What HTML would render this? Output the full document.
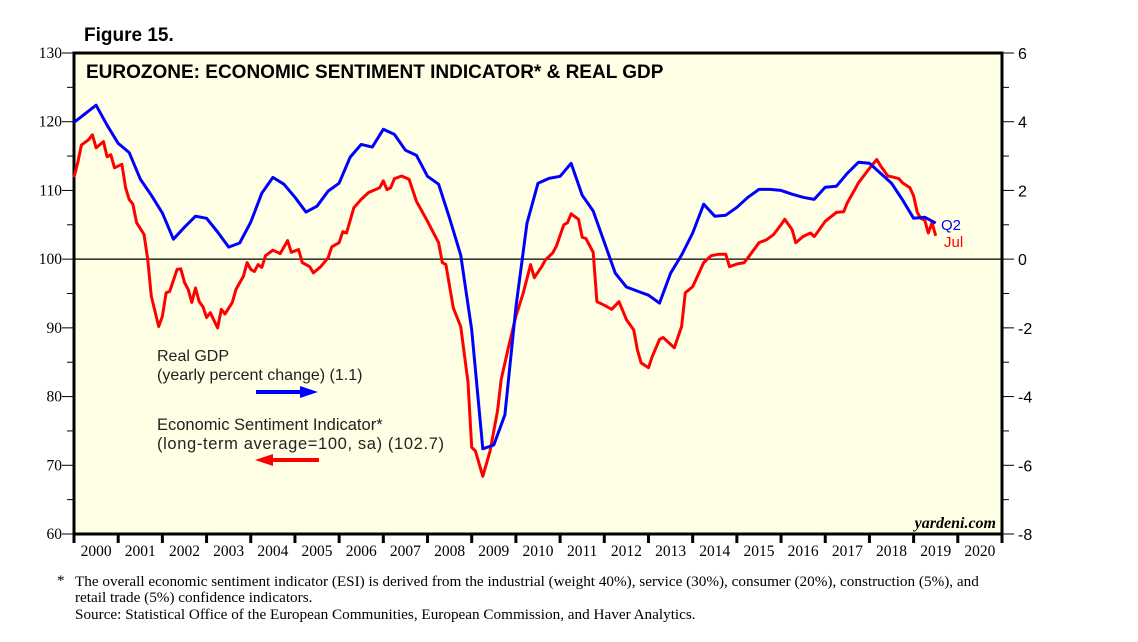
<!DOCTYPE html>
<html><head><meta charset="utf-8"><style>
body{margin:0;background:#fff;}
svg text{font-family:"Liberation Sans",Arial,sans-serif;}
.serif{font-family:"Liberation Serif","Times New Roman",serif;}
</style></head><body>
<svg id="chart" width="1138" height="637" viewBox="0 0 1138 637" xmlns="http://www.w3.org/2000/svg">
<text x="84" y="41" font-size="19" font-weight="bold">Figure 15.</text>
<rect x="74" y="53" width="928" height="481" fill="#ffffe6" stroke="#000" stroke-width="3"/>
<text x="86" y="78" font-size="19" font-weight="bold">EUROZONE: ECONOMIC SENTIMENT INDICATOR* &amp; REAL GDP</text>
<g id="axes"></g>
<g id="series"></g>
<text x="157" y="361" font-size="16" fill="#222">Real GDP</text>
<text x="157" y="380" font-size="16" fill="#222">(yearly percent change) (1.1)</text>
<line x1="256" y1="392" x2="305" y2="392" stroke="#0000ff" stroke-width="4"/>
<polygon points="318,392 300,386 300,398" fill="#0000ff"/>
<text x="157" y="430" font-size="16.5" fill="#222">Economic Sentiment Indicator*</text>
<text x="157" y="449" font-size="16.5" fill="#222" textLength="287" lengthAdjust="spacing">(long-term average=100, sa) (102.7)</text>
<line x1="268" y1="460" x2="319" y2="460" stroke="#ff0000" stroke-width="4"/>
<polygon points="255,460 273,454 273,466" fill="#ff0000"/>
<text x="941" y="230" font-size="15" fill="#0000ff">Q2</text>
<text x="944" y="247" font-size="15" fill="#ff0000">Jul</text>
<text class="serif" x="996" y="528" font-size="16" font-style="italic" font-weight="bold" text-anchor="end">yardeni.com</text>
<text class="serif" x="57" y="585" font-size="15">*</text>
<text class="serif" x="75" y="586" font-size="15.2">The overall economic sentiment indicator (ESI) is derived from the industrial (weight 40%), service (30%), consumer (20%), construction (5%), and</text>
<text class="serif" x="75" y="602" font-size="15.2">retail trade (5%) confidence indicators.</text>
<text class="serif" x="75" y="619" font-size="15.2">Source: Statistical Office of the European Communities, European Commission, and Haver Analytics.</text>
</svg>
<script>
const years=[2000,2001,2002,2003,2004,2005,2006,2007,2008,2009,2010,2011,2012,2013,2014,2015,2016,2017,2018,2019,2020];
const leftTicks=[60,70,80,90,100,110,120,130];
const rightTicks=[-8,-6,-4,-2,0,2,4,6];
const gdpValues=[3.98,4.23,4.48,3.9,3.37,3.1,2.33,1.86,1.34,0.58,0.93,1.25,1.19,0.79,0.35,0.47,1.08,1.92,2.38,2.18,1.8,1.37,1.54,1.98,2.21,2.97,3.34,3.26,3.78,3.63,3.17,3.02,2.41,2.18,1.19,0.12,-2.06,-5.52,-5.41,-4.53,-1.4,1.05,2.21,2.35,2.41,2.79,1.86,1.4,0.49,-0.41,-0.81,-0.93,-1.05,-1.28,-0.41,0.12,0.76,1.6,1.25,1.28,1.51,1.8,2.03,2.03,2.0,1.89,1.8,1.74,2.09,2.12,2.5,2.82,2.79,2.5,2.21,1.72,1.19,1.22,1.05];
const esiMonths=[0,1,2,4,5,6,8,9,10,11,13,14,15,16,17,19,20,21,23,24,25,26,28,29,30,31,32,33,34,35,36,37,39,40,41,43,44,46,47,48,49,50,51,52,54,56,58,59,61,62,64,65,67,69,70,72,73,74,76,78,80,83,84,85,86,87,89,91,93,96,99,100,101,103,105,107,108,109,111,113,115,116,118,120,122,124,125,127,128,130,131,133,134,135,137,138,139,141,142,144,146,148,150,152,153,154,156,157,159,160,163,165,166,168,170,171,173,175,176,177,178,180,182,183,186,188,190,192,193,195,196,198,200,201,202,204,207,209,210,212,213,214,216,218,219,221,222,224,225,227,228,229,230,231,232,233,234];
const esiValues=[111.9,114,116.6,117.4,118.1,116.2,117.1,114.9,115.2,113.3,113.8,110.4,108.7,108,105.3,103.6,100,94.6,90.2,91.7,95.1,95.3,98.5,98.6,96.6,95.6,93.7,95.8,93.8,93.1,91.5,92.2,90,92.7,92,93.7,95.6,97.5,99.5,98.5,98.2,99.2,98.8,100.5,101.3,100.8,102.7,101,101.4,99.5,98.9,98,98.9,100.2,101.8,102.4,104,103.8,107.5,108.7,109.7,110.4,111.4,110.1,110.4,111.7,112.1,111.6,108.4,105.5,102.4,99.5,99.2,92.9,90.2,82.1,72.6,72.1,68.4,72.1,77.9,82.5,87.2,91.7,95.1,99.2,97.3,98.9,99.9,100.9,101.9,105,105.3,106.6,105.8,103.2,103,101,93.8,93.3,92.7,93.8,91.2,89.7,86.8,84.9,84.2,85.8,88.3,88.6,87.1,90.2,95.1,96,98.3,99.5,100.5,100.7,100.7,100.7,98.9,99.3,99.5,100.2,102.4,102.8,103.6,105,105.8,104.3,102.4,103.3,103.8,103.3,104,105.5,106.8,106.9,108.2,110.1,111.1,111.8,113.2,114.5,113.6,112.1,112,111.7,111.1,110.4,109.2,106.8,105.9,105.7,103.8,105.3,103.4,102.7];

const X0=74,X1=1002,Y0=534,Y1=53;
const yrW=(X1-X0)/21;
const xYear=t=>X0+(t-2000)*yrW;
const xMonth=m=>xYear(2000+m/12);
const xQuarter=k=>xYear(2000+k/4);
const yL=v=>Y0-(v-60)/70*(Y0-Y1);
const yR=v=>Y0-(v+8)/14*(Y0-Y1);
const NS='http://www.w3.org/2000/svg';
function mk(tag,attrs,parent){const e=document.createElementNS(NS,tag);for(const k in attrs)e.setAttribute(k,attrs[k]);parent.appendChild(e);return e;}
const axes=document.getElementById('axes'),series=document.getElementById('series');

const zl=mk('line',{x1:X0,x2:X1,y1:yL(100),y2:yL(100),stroke:'#000','stroke-width':1.2},axes);



for(let v=60;v<=130;v+=5){
  const t=mk('line',{x1:X0-(v%10===0?12:7),x2:X0,y1:yL(v),y2:yL(v),stroke:'#000','stroke-width':1},axes);
  
  
}
leftTicks.forEach(v=>{
  const t=mk('text',{x:X0-12,y:yL(v)+5,'font-size':15.5,'text-anchor':'end',class:'serif'},axes);
  t.textContent=v;
  
  
});
for(let v=-8;v<=6;v+=1){
  const t=mk('line',{x1:X1,x2:X1+(v%2===0?12:7),y1:yR(v),y2:yR(v),stroke:'#000','stroke-width':1},axes);
  
  
}
rightTicks.forEach(v=>{
  const t=mk('text',{x:X1+16,y:yR(v)+6,'font-size':16},axes);
  t.textContent=v;
  
  
});
years.forEach((yr,i)=>{
  const tk=mk('line',{x1:xYear(yr),x2:xYear(yr),y1:Y0,y2:Y0+9,stroke:'#000','stroke-width':3},axes);
  
  
  const t=mk('text',{x:xYear(yr+0.5),y:Y0+22,'font-size':15.5,'text-anchor':'middle',class:'serif'},axes);
  t.textContent=yr;
  
  
});
const endTk=mk('line',{x1:X1,x2:X1,y1:Y0,y2:Y0+9,stroke:'#000','stroke-width':3},axes);



const esiPts=esiValues.map((v,i)=>xMonth(esiMonths[i]).toFixed(1)+','+yL(v).toFixed(1)).join(' ');
const esi=mk('polyline',{points:esiPts,fill:'none',stroke:'#ff0000','stroke-width':3,'stroke-linejoin':'round'},series);


const gdpPts=gdpValues.map((v,k)=>xQuarter(k).toFixed(1)+','+yR(v).toFixed(1)).join(' ');
const gdp=mk('polyline',{points:gdpPts,fill:'none',stroke:'#0000ff','stroke-width':3,'stroke-linejoin':'round'},series);


</script>
</body></html>
